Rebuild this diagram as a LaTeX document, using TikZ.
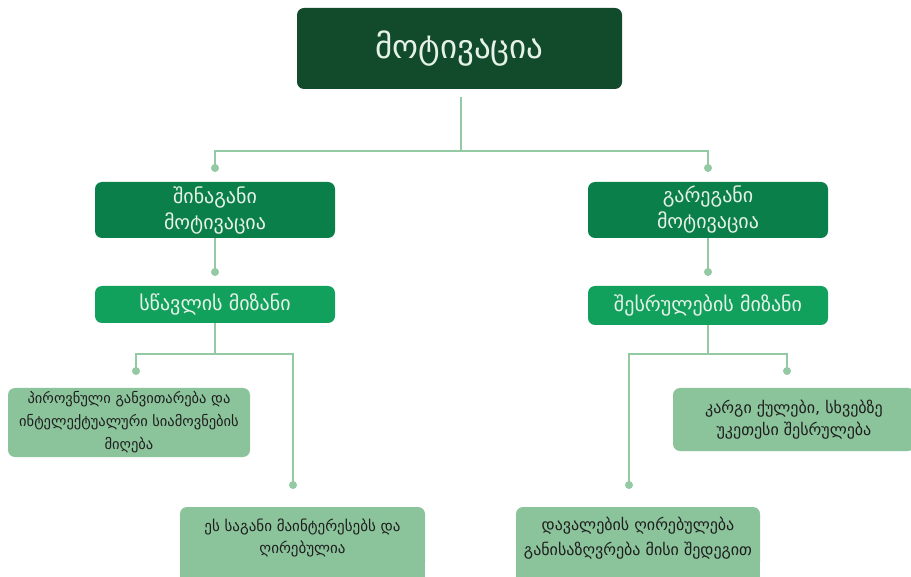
\documentclass[tikz,border=0pt]{standalone}
\usepackage{fontspec}
\setmainfont{DejaVu Sans}
\definecolor{topgreen}{HTML}{114B2B}
\definecolor{midgreen}{HTML}{0B7F4A}
\definecolor{goalgreen}{HTML}{12A05D}
\definecolor{leafgreen}{HTML}{8BC39B}
\definecolor{linegreen}{HTML}{93C9A3}
\definecolor{lighttext}{HTML}{E6F2E8}
\definecolor{darktext}{HTML}{1E1E1E}
\tikzset{
  box/.style={rounded corners=7pt, inner sep=0pt, align=center},
  topbox/.style={box, fill=topgreen, text=lighttext, font=\fontsize{33}{38}\selectfont},
  kindbox/.style={box, fill=midgreen, text=lighttext, font=\fontsize{20}{26}\selectfont},
  goalbox/.style={box, fill=goalgreen, text=lighttext, font=\fontsize{20}{24}\selectfont},
  leafbox/.style={box, fill=leafgreen, text=darktext, font=\fontsize{16}{23}\selectfont},
  conn/.style={draw=linegreen, line width=2pt},
  dot/.style={circle, fill=linegreen, inner sep=0pt, minimum size=8pt}
}
\begin{document}
\begin{tikzpicture}[x=1pt,y=-1pt]
\useasboundingbox (0,0) rectangle (911,577);
\clip (0,0) rectangle (911,577);

% boxes
\node[topbox, minimum width=325pt, minimum height=81pt] (top) at (459.5,48.5) {მოტივაცია};

\node[kindbox, minimum width=240pt, minimum height=56pt] (inner) at (215,210) {შინაგანი\\მოტივაცია};
\node[kindbox, minimum width=240pt, minimum height=56pt] (outer) at (708,210) {გარეგანი\\მოტივაცია};

\node[goalbox, minimum width=240pt, minimum height=37pt] (learn) at (215,304.5) {სწავლის მიზანი};
\node[goalbox, minimum width=240pt, minimum height=39pt] (perf) at (708,305.5) {შესრულების მიზანი};

\node[leafbox, minimum width=242pt, minimum height=69pt, font=\fontsize{14.5}{23}\selectfont] (growth) at (129,422.5) {პიროვნული განვითარება და\\ინტელექტუალური სიამოვნების\\მიღება};
\node[leafbox, minimum width=242pt, minimum height=63pt, font=\fontsize{16}{22}\selectfont] (grades) at (794,419.5) {კარგი ქულები, სხვებზე\\უკეთესი შესრულება};

% the two lower boxes run past the bottom edge: a plain tail under each
\fill[leafgreen] (180,540) rectangle (425,590);
\fill[leafgreen] (516,540) rectangle (760,590);
\node[leafbox, minimum width=245pt, minimum height=62pt, font=\fontsize{15}{22}\selectfont] (value) at (302.5,538) {ეს საგანი მაინტერესებს და\\ღირებულია};
\node[leafbox, minimum width=244pt, minimum height=62pt, font=\fontsize{16}{25}\selectfont] (result) at (638,538) {დავალების ღირებულება\\განისაზღვრება მისი შედეგით};

% connector joints
\coordinate (topstart) at (461,97);
\coordinate (topjoin) at (461,151);
\coordinate (learnjoin) at (215,354);
\coordinate (perfjoin) at (708,354);

% end dots
\node[dot] (dInner) at (215,168) {};
\node[dot] (dOuter) at (708,168) {};
\node[dot] (dLearn) at (215,272) {};
\node[dot] (dPerf) at (708,272) {};
\node[dot] (dGrowth) at (136,371) {};
\node[dot] (dValue) at (293,485) {};
\node[dot] (dGrades) at (787,371) {};
\node[dot] (dResult) at (629,485) {};

% connectors
\draw[conn] (topstart) -- (topjoin) -| (dInner.center);
\draw[conn] (topjoin) -| (dOuter.center);
\draw[conn] (inner.south) -- (dLearn.center);
\draw[conn] (outer.south) -- (dPerf.center);
\draw[conn] (learn.south) -- (learnjoin) -| (dGrowth.center);
\draw[conn] (learnjoin) -| (dValue.center);
\draw[conn] (perf.south) -- (perfjoin) -| (dResult.center);
\draw[conn] (perfjoin) -| (dGrades.center);
\end{tikzpicture}
\end{document}
